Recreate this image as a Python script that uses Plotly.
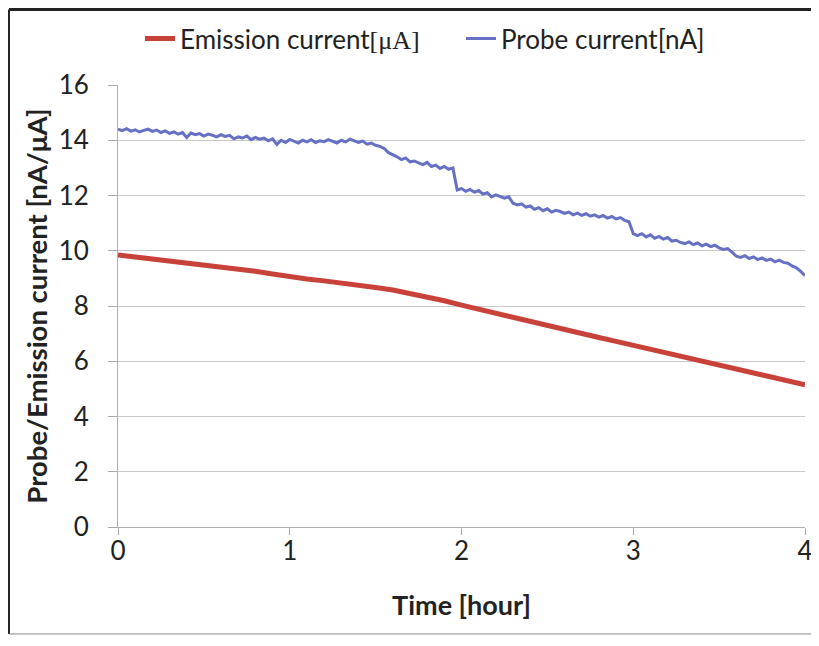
import numpy as np
import plotly.graph_objects as go

# Emission current [uA], sampled every 0.1 h
emission_time = [round(0.1 * i, 2) for i in range(41)]
emission_values = [9.85, 9.78, 9.70, 9.63, 9.56, 9.49, 9.42, 9.34, 9.26, 9.16,
                   9.06, 8.98, 8.91, 8.84, 8.76, 8.67, 8.58, 8.46, 8.33, 8.19,
                   8.03, 7.88, 7.72, 7.57, 7.42, 7.28, 7.13, 6.99, 6.86, 6.72,
                   6.58, 6.43, 6.28, 6.13, 5.99, 5.86, 5.73, 5.59, 5.46, 5.32, 5.15]

# Probe current [nA], sampled every 0.025 h
probe_time = list(np.linspace(0, 4, 161))
probe_values = [
    14.40, 14.35, 14.42, 14.33, 14.38, 14.30, 14.36, 14.40, 14.32, 14.37, 14.28, 14.34,
    14.25, 14.30, 14.22, 14.28, 14.10, 14.26, 14.20, 14.24, 14.15, 14.22, 14.18, 14.12,
    14.20, 14.14, 14.18, 14.05, 14.12, 14.08, 14.15, 14.02, 14.10, 14.04, 14.08, 13.98,
    14.05, 13.85, 14.00, 13.92, 14.03, 13.96, 13.90, 14.00, 13.94, 14.02, 13.92, 13.98,
    13.95, 14.02, 13.96, 13.90, 14.00, 13.94, 14.04, 13.98, 13.92, 13.97, 13.86, 13.90,
    13.82, 13.78, 13.70, 13.55, 13.48, 13.40, 13.30, 13.36,
    13.22, 13.25, 13.18, 13.12, 13.20, 13.05, 13.10, 12.98, 13.05, 12.95, 13.00,
    12.20,
    12.25, 12.15, 12.22, 12.12, 12.18, 12.05, 12.10, 11.95, 12.02, 11.96, 11.90, 11.95,
    11.72, 11.66, 11.70, 11.58, 11.62, 11.50, 11.56, 11.45, 11.52, 11.40, 11.46, 11.42,
    11.35, 11.40, 11.30, 11.36, 11.28, 11.34, 11.25, 11.30, 11.22, 11.28, 11.18, 11.24,
    11.15, 11.20, 11.10, 11.05,
    10.62,
    10.55, 10.62, 10.50, 10.58, 10.45, 10.52, 10.42, 10.48, 10.35, 10.38,
    10.30, 10.26, 10.32, 10.22, 10.28, 10.18, 10.24, 10.15, 10.20, 10.10, 10.05, 10.08, 9.95,
    9.80, 9.76, 9.82, 9.72, 9.78, 9.68, 9.74, 9.65, 9.70, 9.60, 9.66, 9.58,
    9.55, 9.45, 9.38, 9.25, 9.10,
]

x_ticks = [0, 1, 2, 3, 4]
y_ticks = [0, 2, 4, 6, 8, 10, 12, 14, 16]

FONT = "Lato"

fig = go.Figure()
fig.add_trace(go.Scatter(
    x=emission_time, y=emission_values, mode="lines",
    name='Emission current<span style="font-family:Liberation Serif">[μA]</span>',
    line=dict(color="#c8423a", width=5),
))
fig.add_trace(go.Scatter(
    x=probe_time, y=probe_values, mode="lines",
    name="Probe current[nA]",
    line=dict(color="#6670c4", width=3),
))

fig.update_layout(
    width=811, height=638,
    margin=dict(l=110, r=14, t=77, b=119, autoexpand=False),
    paper_bgcolor="white", plot_bgcolor="white",
    font=dict(family=FONT, size=26, color="#222222"),
    showlegend=True,
    legend=dict(orientation="h", x=0.032, xanchor="left", y=1.105, yanchor="middle",
                font=dict(size=26, color="#222222"), itemwidth=30,
                entrywidth=276, entrywidthmode="pixels",
                bgcolor="rgba(0,0,0,0)"),
    xaxis=dict(range=[0, 4], tickvals=x_ticks, ticks="outside", ticklen=7,
               tickcolor="#aaaaaa", showgrid=False, showline=True,
               linecolor="#b0b0b0", linewidth=1, zeroline=False, automargin=False,
               tickfont=dict(size=26), ticklabelstandoff=-6,
               title=dict(text="<b>Time [hour]</b>", font=dict(size=27), standoff=30)),
    yaxis=dict(range=[0, 16], tickvals=y_ticks, ticks="outside", ticklen=9,
               tickcolor="#aaaaaa", showgrid=True, gridcolor="#c8c8c8",
               gridwidth=1, showline=True, linecolor="#b0b0b0", linewidth=1,
               zeroline=False, automargin=False, tickfont=dict(size=26),
               ticklabelstandoff=14,
               title=dict(text="<b>Probe/Emission current [nA/μA]</b>",
                          font=dict(size=27.5), standoff=3)),
    shapes=[
        dict(type="line", xref="paper", yref="paper", x0=-0.1587, x1=-0.1587,
             y0=-0.242, y1=1.171, line=dict(color="#222222", width=2)),
        dict(type="line", xref="paper", yref="paper", x0=-0.1587, x1=1.03,
             y0=1.171, y1=1.171, line=dict(color="#222222", width=3)),
        dict(type="line", xref="paper", yref="paper", x0=-0.1587, x1=1.03,
             y0=-0.242, y1=-0.242, line=dict(color="#888888", width=1)),
    ],
)

fig.write_html("out.html")
